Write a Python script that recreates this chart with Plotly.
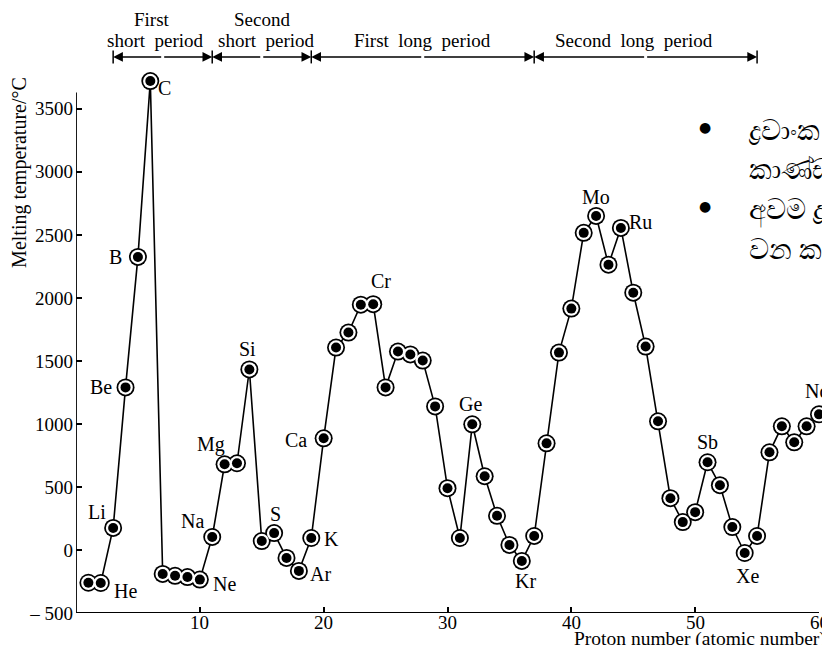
import plotly.graph_objects as go

# ---------------- data ----------------
proton_number = list(range(1, 61))
melting_temp = [-260, -262, 175, 1290, 2325, 3720, -190, -205, -215, -235,
                103, 680, 688, 1432, 71, 134, -63, -166, 95, 886,
                1606, 1725, 1946, 1950, 1290, 1574, 1551, 1503, 1139, 490,
                95, 997, 585, 271, 40, -87, 111, 846, 1566, 1915,
                2516, 2650, 2263, 2555, 2041, 1614, 1021, 411, 221, 300,
                696, 514, 182, -24, 111, 775, 981, 854, 981, 1076]

label_symbols = ["He", "Li", "Be", "B", "C", "Ne", "Na", "Mg", "Si", "S", "Ar", "K",
                 "Ca", "Cr", "Ge", "Kr", "Mo", "Ru", "Sb", "Xe", "Nd"]
label_z = [2, 3, 4, 5, 6, 10, 11, 12, 14, 16, 18, 19,
           20, 24, 32, 36, 42, 44, 51, 54, 60]

period_top = ["First", "Second", "", ""]
period_bottom = ["short  period", "short  period", "First  long  period", "Second  long  period"]
period_bounds = [3, 11, 19, 37, 55]

y_tickvals = [-500, 0, 500, 1000, 1500, 2000, 2500, 3000, 3500]
y_ticktext = ["– 500", "0", "500", "1000", "1500", "2000", "2500", "3000", "3500"]
x_tickvals = [10, 20, 30, 40, 50, 60]

note_lines = ["ද්‍රවාංක", "කාණ්ඩය", "අවම ද්‍රවාංක", "වන කාණ්ඩය"]

# ---------------- style ----------------
FONT = "Liberation Serif"
label_offsets = {  # pixel offsets (xshift, yshift) of element labels
    "He": (25, -8), "Li": (-16, 16), "Be": (-25, 0), "B": (-22, 0), "C": (14, -7),
    "Ne": (25, -4), "Na": (-20, 16), "Mg": (-14, 20), "Si": (-2, 20), "S": (1, 19),
    "Ar": (22, -3), "K": (20, -1), "Ca": (-28, -2), "Cr": (8, 23), "Ge": (-2, 20),
    "Kr": (4, -20), "Mo": (0, 19), "Ru": (20, 6), "Sb": (0, 20), "Xe": (3, -23),
    "Nd": (-2, 23),
}
period_text_shift = [-7, 5, 0, -12]       # px nudges of period captions
period_top_shift = [-11, 0, 0, 0]

fig = go.Figure()
fig.add_trace(go.Scatter(x=proton_number, y=melting_temp, mode="lines",
                         line=dict(color="black", width=1.6), cliponaxis=False,
                         hoverinfo="skip"))
fig.add_trace(go.Scatter(x=proton_number, y=melting_temp, mode="markers",
                         marker=dict(size=18, color="black"), cliponaxis=False))
fig.add_trace(go.Scatter(x=proton_number, y=melting_temp, mode="markers",
                         marker=dict(size=14.5, color="white"), cliponaxis=False))
fig.add_trace(go.Scatter(x=proton_number, y=melting_temp, mode="markers",
                         marker=dict(size=10, color="black"), cliponaxis=False))

annotations = []
for sym, z in zip(label_symbols, label_z):
    dx, dy = label_offsets[sym]
    annotations.append(dict(x=z, y=melting_temp[z - 1], xref="x", yref="y", text=sym,
                            showarrow=False, xshift=dx, yshift=dy,
                            xanchor="center", yanchor="middle",
                            font=dict(family=FONT, size=20, color="black")))

# x tick labels (placed close under the axis as in the original)
for v in x_tickvals:
    annotations.append(dict(x=v, y=0, xref="x", yref="paper", text=str(v),
                            showarrow=False, xanchor="center", yanchor="middle",
                            yshift=-9, font=dict(family=FONT, size=19, color="black")))

# period bars
bar_y = 1.026
shapes = []
for i in range(len(period_bottom)):
    a, b = period_bounds[i], period_bounds[i + 1]
    mid = (a + b) / 2
    for end in (a, b):
        annotations.append(dict(x=end, y=bar_y, xref="x", yref="paper",
                                ax=mid, ay=0, axref="x", ayref="pixel",
                                text="", showarrow=True, arrowhead=2, arrowsize=1.3,
                                arrowwidth=1.5, arrowcolor="black", standoff=0))
    annotations.append(dict(x=mid, y=1.057, xref="x", yref="paper", text=period_bottom[i],
                            showarrow=False, xanchor="center", yanchor="middle",
                            xshift=period_text_shift[i],
                            font=dict(family=FONT, size=19, color="black")))
    if period_top[i]:
        annotations.append(dict(x=mid, y=1.095, xref="x", yref="paper", text=period_top[i],
                                showarrow=False, xanchor="center", yanchor="middle",
                                xshift=period_top_shift[i],
                                font=dict(family=FONT, size=19, color="black")))
for bnd in period_bounds:
    shapes.append(dict(type="line", xref="x", yref="paper", x0=bnd, x1=bnd,
                       y0=bar_y - 0.012, y1=bar_y + 0.012,
                       line=dict(color="black", width=1.5)))

# axis lines
shapes.append(dict(type="line", xref="x", yref="y", x0=0, x1=0, y0=-500, y1=3630,
                   line=dict(color="black", width=1.8)))
shapes.append(dict(type="line", xref="x", yref="y", x0=0, x1=60, y0=-500, y1=-500,
                   line=dict(color="black", width=1.8)))

# axis titles
annotations.append(dict(x=0, y=0.812, xref="paper", yref="paper", xshift=-56,
                        xanchor="center", yanchor="middle",
                        text="Melting temperature/°C", textangle=-90, showarrow=False,
                        font=dict(family=FONT, size=20, color="black")))
annotations.append(dict(x=1.012, y=0, xref="paper", yref="paper", xanchor="right",
                        yanchor="middle", yshift=-26,
                        text="Proton number (atomic number)", showarrow=False,
                        font=dict(family=FONT, size=19.5, color="black")))

# Sinhala note (cut off at right edge)
note_y = [0.893, 0.821, 0.747, 0.673]
for t, yy in zip(note_lines, note_y):
    annotations.append(dict(x=0.903, y=yy, xref="paper", yref="paper", xanchor="left",
                            yanchor="middle", text=t, showarrow=False,
                            font=dict(family="Noto Sans", size=28, color="black")))
for yy in (note_y[0], note_y[2]):
    annotations.append(dict(x=0.8466, y=yy + 0.004, xref="paper", yref="paper",
                            xanchor="center", yanchor="middle",
                            text="●", showarrow=False,
                            font=dict(family="DejaVu Sans", size=14, color="black")))

fig.update_layout(
    width=830, height=645,
    margin=dict(l=68, r=19, t=63, b=40),
    paper_bgcolor="white", plot_bgcolor="white",
    showlegend=False,
    font=dict(family=FONT, size=19, color="black"),
    xaxis=dict(range=[0, 60], tickvals=x_tickvals, ticks="inside", ticklen=6,
               tickwidth=1.5, tickcolor="black", showgrid=False, zeroline=False,
               showline=False, showticklabels=False),
    yaxis=dict(range=[-500, 3800], tickvals=y_tickvals, ticktext=y_ticktext,
               ticks="inside", ticklen=6, tickwidth=1.5, tickcolor="black",
               showgrid=False, zeroline=False, showline=False,
               ticklabelstandoff=2, tickfont=dict(family=FONT, size=19)),
    shapes=shapes,
    annotations=annotations,
)

fig.write_html("out.html")
